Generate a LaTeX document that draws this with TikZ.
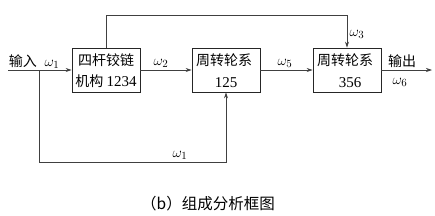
\documentclass[tikz,border=0pt]{standalone}
\usepackage{fontspec}
\setmainfont{Liberation Serif}
\newfontfamily\cjk{Noto Sans CJK SC}
\usetikzlibrary{arrows.meta}
\begin{document}
\begin{tikzpicture}[x=1pt,y=-1pt,
  blk/.style={draw=black!85,line width=0.8pt,minimum width=68pt,minimum height=44pt,inner sep=0pt},
  conn/.style={draw=black!75,line width=0.7pt},
  arr/.style={conn,-{Stealth[length=6pt,width=4pt]}},
  lbl/.style={inner sep=0pt,font=\fontsize{15}{15}\selectfont},
  num/.style={inner sep=0pt,font=\fontsize{15}{15}\selectfont},
  cn/.style={inner sep=0pt,font=\cjk\fontsize{14}{14}\selectfont}]
\useasboundingbox (0,0) rectangle (435,215);
\node[blk] (b1) at (106,70) {};
\node[blk] (b2) at (226,70) {};
\node[blk] (b3) at (347,70) {};
\node[cn] (t1a) at (106,60) {四杆铰链};
\node[cn] (t1b) at (106,81) {机构 {\rmfamily\fontsize{15}{15}\selectfont 1234}};
\node[cn] (t2a) at (224,60) {周转轮系};
\node[num] (t2b) at (226,83) {125};
\node[cn] (t3a) at (345,60) {周转轮系};
\node[num] (t3b) at (350,83) {356};
\coordinate (in) at (8,70);
\coordinate (br) at (39,70);
\coordinate (out) at (432,70);
\draw[arr] (in) -- (b1.west);
\draw[arr] (b1.east) -- (b2.west);
\draw[arr] (b2.east) -- (b3.west);
\draw[arr] (b3.east) -- (out);
\draw[arr] (br) -- (39,162) -| (b2.south);
\draw[arr] (b1.north) |- (347,15) -- (b3.north);
\node[cn] (inl) at (23,61) {输入};
\node[lbl] (w1a) at (52,64) {$\omega_1$};
\node[lbl] (w2) at (161,63) {$\omega_2$};
\node[lbl] (w5) at (285,63) {$\omega_5$};
\node[lbl] (w3) at (357,34) {$\omega_3$};
\node[cn] (outl) at (402,61) {输出};
\node[lbl] (w6) at (400,82) {$\omega_6$};
\node[lbl] (w1b) at (180,155) {$\omega_1$};
\node[cn,font=\cjk\fontsize{15.5}{15.5}\selectfont] (cap) at (208,204) {（b）组成分析框图};
\end{tikzpicture}
\end{document}
